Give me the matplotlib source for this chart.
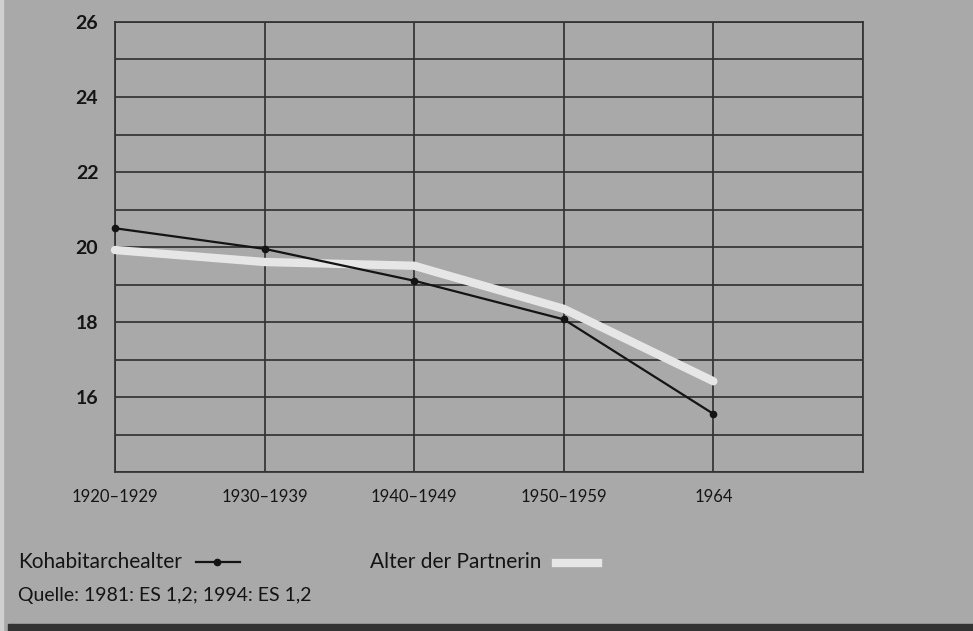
import matplotlib.pyplot as plt
from matplotlib.patches import Rectangle
from matplotlib.lines import Line2D

plt.rcParams['font.family'] = ['Lato', 'DejaVu Sans']

# Kohorten und Durchschnittsalter
kohorten = ['1920–1929', '1930–1939', '1940–1949', '1950–1959', '1964']
kohabitarchealter = [20.5, 19.95, 19.1, 18.07, 15.55]
alter_partnerin = [19.92, 19.6, 19.5, 18.35, 16.42]
y_ticks = [16, 18, 20, 22, 24, 26]

bg = '#a9a9a9'
grid_col = '#333333'
txt = '#141414'

fig = plt.figure(figsize=(9.73, 6.31), dpi=100, facecolor=bg)
ax = fig.add_axes([115 / 973, 159 / 631, 748 / 973, 450 / 631])
ax.set_facecolor(bg)

x = list(range(len(kohorten)))
ax.plot(x, alter_partnerin, color='#e6e6e6', lw=6, solid_capstyle='round', zorder=3,
        clip_on=False)
ax.plot(x, kohabitarchealter, color='#141414', lw=1.6, marker='o', ms=4.5, zorder=4,
        clip_on=False)

ax.set_xlim(0, 5)
ax.set_ylim(14, 26)
ax.set_yticks(range(14, 27))
ax.set_yticklabels(['' if t not in y_ticks else str(t) for t in range(14, 27)],
                   fontweight='bold')
ax.set_xticks(range(6))
ax.set_xticklabels(kohorten + [''])
ax.grid(True, color=grid_col, lw=1.25)
ax.set_axisbelow(True)
for s in ax.spines.values():
    s.set_color(grid_col)
    s.set_linewidth(1.25)
ax.tick_params(length=0, colors=txt)
ax.tick_params(axis='y', labelsize=14, pad=12)
ax.tick_params(axis='x', labelsize=12, pad=12)

# Legende und Quelle unter dem Diagramm
fig.text(18 / 973, 1 - 562 / 631, 'Kohabitarchealter', fontsize=15, color=txt, va='center')
fig.add_artist(Line2D([196 / 973, 240 / 973], [1 - 562 / 631] * 2, color='#141414', lw=1.6,
                      transform=fig.transFigure))
fig.add_artist(Line2D([217 / 973], [1 - 562 / 631], color='#141414', marker='o', ms=4.5,
                      transform=fig.transFigure))
fig.text(370 / 973, 1 - 562 / 631, 'Alter der Partnerin', fontsize=15, color=txt, va='center')
fig.add_artist(Line2D([556 / 973, 598 / 973], [1 - 563 / 631] * 2, color='#e6e6e6', lw=6,
                      transform=fig.transFigure))
fig.text(18 / 973, 1 - 596 / 631, 'Quelle: 1981: ES 1,2; 1994: ES 1,2', fontsize=14,
         color=txt, va='center')

fig.add_artist(Rectangle((8 / 973, 0), 1, 7 / 631, color='#333333', transform=fig.transFigure))
fig.add_artist(Rectangle((0, 0), 3 / 973, 1, color='#d0d0d0', transform=fig.transFigure))

fig.savefig('out.png', dpi=100, facecolor=bg)
